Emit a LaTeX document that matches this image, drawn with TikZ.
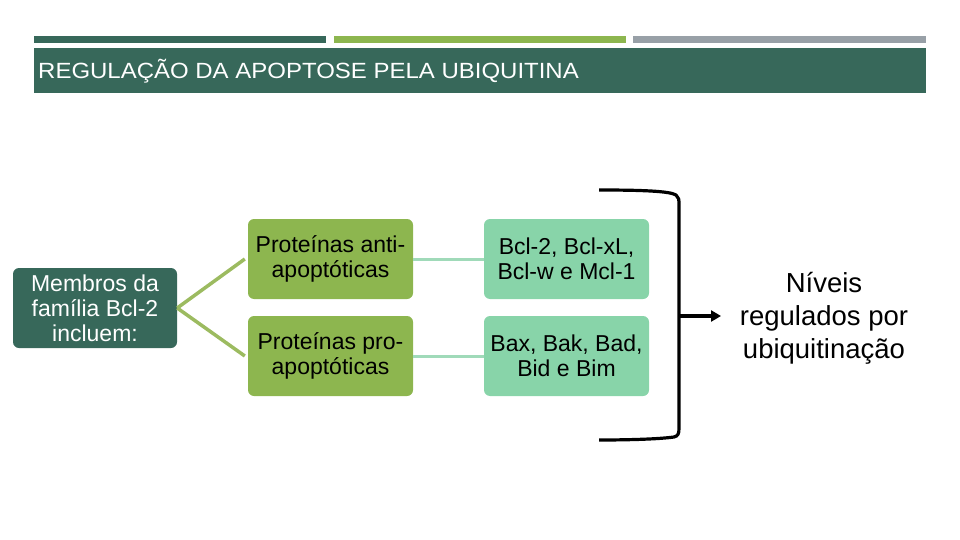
\documentclass[tikz,border=0pt]{standalone}
\usepackage{fontspec}
\setmainfont{Liberation Sans}
\usetikzlibrary{arrows.meta}
\definecolor{dkgreen}{HTML}{37685A}
\definecolor{ltgreen}{HTML}{8DB64F}
\definecolor{greybar}{HTML}{98A0A7}
\definecolor{mint}{HTML}{88D4A9}
\definecolor{olive}{HTML}{9CBB60}
\definecolor{mintline}{HTML}{A0DAB9}
\tikzset{
  box/.style={rounded corners=6pt, minimum width=165pt, minimum height=80pt, align=center,
    inner sep=0pt, font=\fontsize{23}{25}\selectfont},
  greenbox/.style={box, fill=ltgreen, text=black},
  mintbox/.style={box, fill=mint, text=black},
  rootbox/.style={box, fill=dkgreen, text=white, minimum width=164pt},
  oline/.style={draw=olive, line width=3.5pt},
  mline/.style={draw=mintline, line width=3pt},
  brk/.style={draw=black, line width=3.2pt},
}
\begin{document}
\begin{tikzpicture}[x=1pt,y=-1pt]
\useasboundingbox (0,0) rectangle (960,540);
% header bars
\fill[dkgreen] (34,36) rectangle (326,43);
\fill[ltgreen] (334,36) rectangle (626,43);
\fill[greybar] (633,36) rectangle (926,43);
\fill[dkgreen] (34,48) rectangle (926,93);
\node[anchor=base west, text=white, font=\fontsize{22}{24}\selectfont, xscale=1.09, inner sep=0pt] (title) at (38,79) {REGULAÇÃO DA APOPTOSE PELA UBIQUITINA};
% nodes
\node[rootbox] (root) at (95,308) {Membros da\\família Bcl-2\\incluem:};
\node[greenbox] (anti) at (330.5,259) {Proteínas anti-\\apoptóticas};
\node[greenbox] (pro) at (330.5,356) {Proteínas pro-\\apoptóticas};
\node[mintbox] (antil) at (566.5,259) {Bcl-2, Bcl-xL,\\Bcl-w e Mcl-1};
\node[mintbox] (prol) at (566.5,356) {Bax, Bak, Bad,\\Bid e Bim};
\node[align=center, font=\fontsize{27.5}{33}\selectfont, inner sep=0pt] (res) at (824,318) {Níveis\\regulados por\\ubiquitinação};
% connectors
\draw[oline] (root.east) -- ([xshift=-3pt]anti.west);
\draw[oline] (root.east) -- ([xshift=-3pt]pro.west);
\draw[mline] (anti.east) -- (antil.west);
\draw[mline] (pro.east) -- (prol.west);
% bracket
\coordinate (bt) at (599,190);
\coordinate (bb) at (599,440);
\coordinate (bm) at (679,316);
\draw[brk, line join=round] (bt) .. controls (640,190) and (670,191) .. (676,195)
  .. controls (679,197) and (679,200) .. (679,205) -- (679,428)
  .. controls (679,434) and (678,436) .. (674,437)
  .. controls (660,439) and (630,440) .. (bb);
\coordinate (arrtip) at (721,316);
\draw[brk, -{Triangle[length=10pt,width=11pt]}] (bm) -- (arrtip);
\end{tikzpicture}
\end{document}
